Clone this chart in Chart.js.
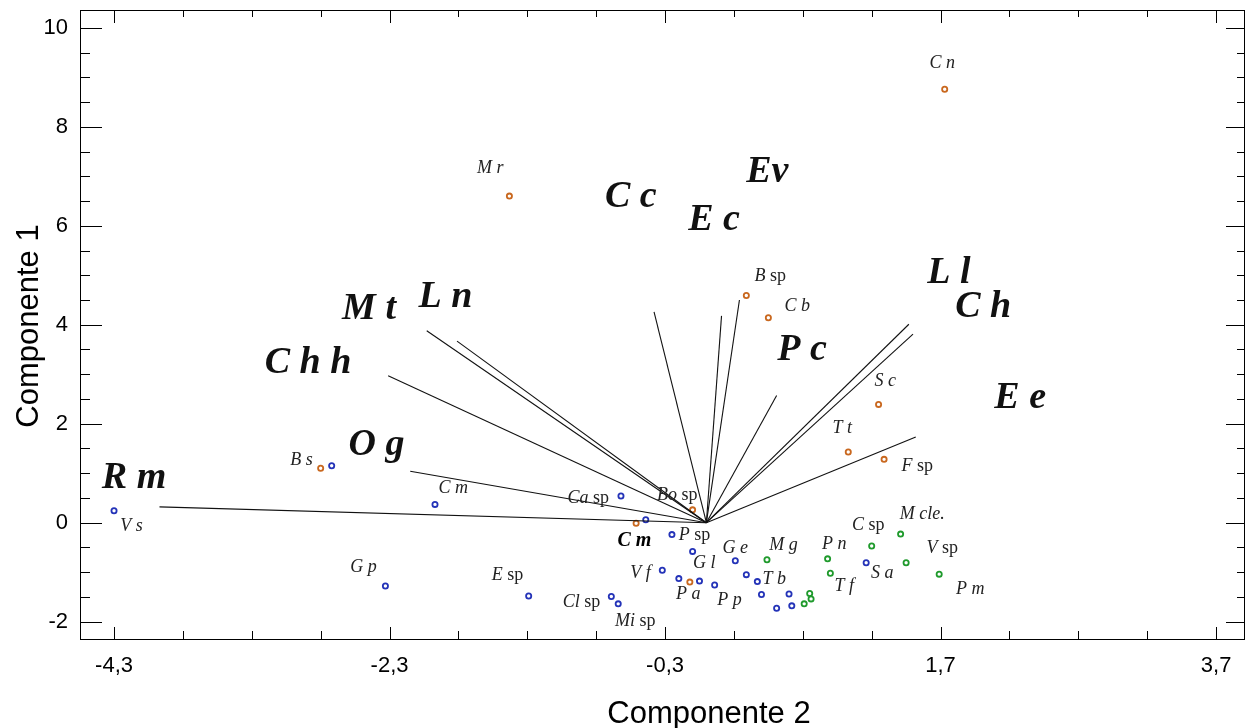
<!DOCTYPE html>
<html>
<head>
<meta charset="utf-8">
<script src="https://cdn.jsdelivr.net/npm/chart.js@4.4.0/dist/chart.umd.min.js"></script>
<style>
  html, body { margin: 0; padding: 0; background: #fff; }
</style>
</head>
<body>
<canvas id="biplot" width="1246" height="728"></canvas>
<script>
// Biplot: Componente 2 (x) vs Componente 1 (y)
const xTicks = [-4.3, -2.3, -0.3, 1.7, 3.7];
const yTicks = [-2, 0, 2, 4, 6, 8, 10];
const X_MIN = -4.547, X_MAX = 3.91;
const Y_MIN = -2.35, Y_MAX = 10.36;

// variable vectors (from origin)
const varNames = ['R m', 'O g', 'C h h', 'M t', 'L n', 'C c', 'E c', 'Ev', 'P c', 'L l', 'C h', 'E e'];
const varX = [-3.97, -2.15, -2.31, -2.03, -1.81, -0.38, 0.11, 0.24, 0.51, 1.47, 1.50, 1.52];
const varY = [0.32, 1.04, 2.97, 3.88, 3.67, 4.26, 4.18, 4.50, 2.57, 4.01, 3.81, 1.73];
// where each vector name sits (text anchor, data units)
const varLabelX = [-4.155, -2.395, -2.892, -2.449, -1.894, -0.548, 0.056, 0.442, 0.694, 1.761, 2.010, 2.278];
const varLabelY = [0.695, 1.368, 3.018, 4.109, 4.364, 6.384, 5.913, 6.889, 3.287, 4.836, 4.162, 2.311];

// species scores, three groups
const orangeX = [1.73, -1.43, 0.29, 0.45, 1.25, 1.03, 1.29, -2.80, -0.10, -0.51, -0.12];
const orangeY = [8.76, 6.60, 4.59, 4.14, 2.39, 1.43, 1.28, 1.10, 0.26, -0.01, -1.20];

const blueX = [-4.30, -2.72, -2.33, -1.97, -0.62, -0.44, -0.25, -0.10, -0.32, -0.20, -0.05, 0.06,
               0.21, 0.29, 0.37, 0.40, 0.51, 0.60, 0.62, -1.29, -0.69, -0.64, 1.16];
const blueY = [0.24, 1.15, -1.28, 0.37, 0.54, 0.06, -0.24, -0.58, -0.96, -1.13, -1.18, -1.26,
               -0.77, -1.05, -1.19, -1.45, -1.73, -1.44, -1.68, -1.48, -1.49, -1.64, -0.81];

const greenX = [0.44, 0.71, 0.75, 0.76, 0.88, 0.90, 1.20, 1.41, 1.45, 1.69];
const greenY = [-0.75, -1.64, -1.43, -1.54, -0.73, -1.02, -0.47, -0.23, -0.81, -1.04];

// species names and where they are written
const spNames = ['C n', 'M r', 'B sp', 'C b', 'S c', 'T t', 'F sp', 'B s', 'V s', 'G p', 'C m', 'Ca sp',
                 'Bo sp', 'P sp', 'G e', 'G l', 'V f', 'P a', 'P p', 'T b', 'M g', 'P n', 'T f', 'C sp',
                 'M cle.', 'V sp', 'S a', 'P m', 'E sp', 'Cl sp', 'Mi sp'];
const spLabelX = [1.712, -1.568, 0.464, 0.660, 1.299, 0.987, 1.531, -2.939, -4.173, -2.489, -1.837, -0.857,
                  -0.211, -0.087, 0.210, -0.015, -0.479, -0.131, 0.167, 0.493, 0.559, 0.929, 1.001, 1.175,
                  1.567, 1.712, 1.277, 1.916, -1.444, -0.907, -0.516];
const spLabelY = [9.287, 7.166, 4.984, 4.378, 2.863, 1.913, 1.145, 1.267, -0.067, -0.895, 0.701, 0.499,
                  0.560, -0.248, -0.511, -0.814, -1.016, -1.440, -1.562, -1.137, -0.450, -0.430, -1.279, -0.046,
                  0.176, -0.511, -1.016, -1.339, -1.057, -1.602, -1.986];
const boldName = 'C m', boldX = -0.523, boldY = -0.370;

const SERIF = '"Liberation Serif", "Times New Roman", serif';
const SANS = '"Liberation Sans", Arial, sans-serif';
const COLORS = { orange: '#c9681f', blue: '#2433b8', green: '#1f9a2c' };

function toPoints(xs, ys) {
  return xs.map((x, i) => ({ x: x, y: ys[i] }));
}

function pointSet(xs, ys, color) {
  return {
    type: 'scatter',
    data: toPoints(xs, ys),
    pointStyle: 'circle',
    pointRadius: 2.6,
    pointBorderWidth: 1.8,
    borderColor: color,
    backgroundColor: '#fff',
    showLine: false
  };
}

const vectorSets = varNames.map((name, i) => ({
  type: 'scatter',
  label: name,
  data: [{ x: 0, y: 0 }, { x: varX[i], y: varY[i] }],
  showLine: true,
  borderColor: '#111',
  borderWidth: 1.1,
  pointRadius: 0,
  fill: false
}));

// frame, inner ticks, axis titles and all text labels
const biplotDecor = {
  id: 'biplotDecor',
  afterDatasetsDraw(chart) {
    const ctx = chart.ctx;
    const a = chart.chartArea;
    const xs = chart.scales.x, ys = chart.scales.y;
    ctx.save();

    // frame
    ctx.strokeStyle = '#000';
    ctx.lineWidth = 1;
    ctx.strokeRect(Math.round(a.left) + 0.5, Math.round(a.top) + 0.5,
                   Math.round(a.right - a.left) - 1, Math.round(a.bottom - a.top));

    ctx.beginPath();
    // x ticks every 0.5, long ones at labels
    for (let v = -4.3; v <= X_MAX + 1e-9; v += 0.5) {
      const major = xTicks.some(t => Math.abs(t - v) < 1e-6);
      const px = Math.round(xs.getPixelForValue(v)) + 0.5;
      ctx.moveTo(px, a.bottom);
      ctx.lineTo(px, a.bottom - (major ? 12 : 8));
      ctx.moveTo(px, a.top);
      ctx.lineTo(px, a.top + (major ? 13 : 7));
    }
    // y ticks every 0.5
    for (let v = -2; v <= Y_MAX + 1e-9; v += 0.5) {
      const major = yTicks.some(t => Math.abs(t - v) < 1e-6);
      const py = Math.round(ys.getPixelForValue(v)) + 0.5;
      ctx.moveTo(a.left, py);
      ctx.lineTo(a.left + (major ? 22 : 10), py);
      ctx.moveTo(a.right, py);
      ctx.lineTo(a.right - (major ? 19 : 8), py);
    }
    ctx.stroke();

    // axis titles
    ctx.fillStyle = '#000';
    ctx.font = '31px ' + SANS;
    ctx.textAlign = 'center';
    ctx.textBaseline = 'alphabetic';
    ctx.fillText('Componente 2', 709, 723);
    ctx.save();
    ctx.translate(38, 326);
    ctx.rotate(-Math.PI / 2);
    ctx.fillText('Componente 1', 0, 0);
    ctx.restore();

    // vector names
    ctx.fillStyle = '#111';
    ctx.font = 'bold italic 38px ' + SERIF;
    varNames.forEach((name, i) => {
      ctx.fillText(name, xs.getPixelForValue(varLabelX[i]), ys.getPixelForValue(varLabelY[i]));
    });

    // species names: genus letters italic, "sp" upright
    ctx.textBaseline = 'middle';
    ctx.textAlign = 'left';
    ctx.fillStyle = '#222';
    const italic = 'italic 18px ' + SERIF;
    const upright = '18px ' + SERIF;
    spNames.forEach((name, i) => {
      const parts = name.endsWith(' sp')
        ? [[name.slice(0, -3), italic], [' sp', upright]]
        : [[name, italic]];
      let w = 0;
      parts.forEach(p => { ctx.font = p[1]; w += ctx.measureText(p[0]).width; });
      let px = xs.getPixelForValue(spLabelX[i]) - w / 2;
      const py = ys.getPixelForValue(spLabelY[i]);
      parts.forEach(p => {
        ctx.font = p[1];
        ctx.fillText(p[0], px, py);
        px += ctx.measureText(p[0]).width;
      });
    });

    ctx.font = 'bold italic 20px ' + SERIF;
    ctx.fillStyle = '#000';
    ctx.textAlign = 'center';
    ctx.fillText(boldName, xs.getPixelForValue(boldX), ys.getPixelForValue(boldY));

    ctx.restore();
  }
};

const fmt = v => String(v).replace('.', ',');

new Chart(document.getElementById('biplot').getContext('2d'), {
  type: 'scatter',
  data: {
    datasets: [
      ...vectorSets,
      pointSet(orangeX, orangeY, COLORS.orange),
      pointSet(blueX, blueY, COLORS.blue),
      pointSet(greenX, greenY, COLORS.green)
    ]
  },
  options: {
    responsive: false,
    animation: false,
    devicePixelRatio: 1,
    layout: { autoPadding: false, padding: { top: 10, right: 1, left: 0, bottom: 0 } },
    plugins: { legend: { display: false }, tooltip: { enabled: false } },
    scales: {
      x: {
        type: 'linear',
        min: X_MIN,
        max: X_MAX,
        grid: { display: false, drawTicks: false },
        border: { display: false },
        afterBuildTicks: s => { s.ticks = xTicks.map(v => ({ value: v })); },
        afterFit: s => { s.height = 89; s.paddingLeft = 0; s.paddingRight = 0; },
        ticks: {
          color: '#000',
          padding: 14,
          maxRotation: 0,
          font: { family: SANS, size: 22 },
          callback: v => fmt(v)
        }
      },
      y: {
        type: 'linear',
        min: Y_MIN,
        max: Y_MAX,
        grid: { display: false, drawTicks: false },
        border: { display: false },
        afterBuildTicks: s => { s.ticks = yTicks.map(v => ({ value: v })); },
        afterFit: s => { s.width = 80; s.paddingTop = 0; s.paddingBottom = 0; },
        ticks: {
          color: '#000',
          padding: 12,
          font: { family: SANS, size: 22 },
          callback: v => fmt(v)
        }
      }
    }
  },
  plugins: [biplotDecor]
});
</script>
</body>
</html>
